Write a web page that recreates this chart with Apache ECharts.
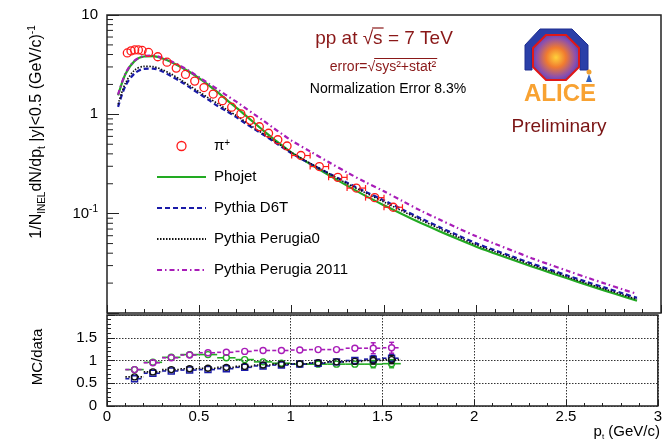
<!DOCTYPE html>
<html><head><meta charset="utf-8">
<script src="https://cdn.jsdelivr.net/npm/echarts@6/dist/echarts.min.js"></script>
<style>html,body{margin:0;padding:0;background:#fff}#c{width:665px;height:444px}</style>
</head><body><div id="c"></div>
<script>
// ---- data: pi+ spectrum ----
const dataPt = [0.11,0.13,0.15,0.17,0.19,0.225,0.275,0.325,0.375,0.425,0.475,0.525,0.575,0.625,0.675,0.725,0.775,0.825,0.875,0.925,0.975,1.05,1.15,1.25,1.35,1.45,1.55];
const dataY = [4.15,4.35,4.45,4.45,4.40,4.20,3.80,3.35,2.92,2.52,2.16,1.86,1.60,1.37,1.18,1.01,0.87,0.75,0.645,0.555,0.48,0.385,0.298,0.232,0.181,0.145,0.116];
const dataHalfWidth = [0.01,0.01,0.01,0.01,0.01,0.025,0.025,0.025,0.025,0.025,0.025,0.025,0.025,0.025,0.025,0.025,0.025,0.025,0.025,0.025,0.025,0.05,0.05,0.05,0.05,0.05,0.05];
// ---- MC curves ----
const mcPt = [0.06,0.1,0.15,0.2,0.25,0.3,0.35,0.4,0.45,0.5,0.55,0.6,0.65,0.7,0.75,0.8,0.85,0.9,0.95,1.0,1.1,1.2,1.3,1.4,1.5,1.6,1.7,1.8,1.9,2.0,2.1,2.2,2.3,2.4,2.5,2.6,2.7,2.8,2.87];
const phojet = [1.55,2.55,3.45,3.82,3.85,3.65,3.35,3.0,2.65,2.3,1.97,1.66,1.39,1.17,0.977,0.813,0.679,0.571,0.484,0.412,0.316,0.245,0.1915,0.151,0.1216,0.0986,0.0807,0.0667,0.0555,0.0465,0.0398,0.0342,0.0294,0.0255,0.0221,0.0192,0.0167,0.0146,0.0133];
const pythiaD6T = [1.19,1.94,2.59,2.87,2.89,2.70,2.41,2.13,1.855,1.61,1.40,1.21,1.07,0.936,0.811,0.707,0.618,0.537,0.465,0.404,0.319,0.255,0.205,0.166,0.136,0.110,0.0896,0.0734,0.0605,0.0502,0.0428,0.0367,0.0315,0.0273,0.0236,0.0205,0.0179,0.0156,0.0142];
const pythiaPerugia0 = [1.26,2.07,2.79,3.04,3.02,2.81,2.53,2.22,1.93,1.68,1.46,1.28,1.11,0.971,0.840,0.724,0.631,0.548,0.474,0.412,0.322,0.255,0.201,0.162,0.131,0.106,0.0863,0.0707,0.0583,0.0484,0.0414,0.0356,0.0305,0.0265,0.0229,0.0198,0.0173,0.0151,0.0137];
const pythiaPerugia2011 = [1.58,2.58,3.48,3.86,3.90,3.70,3.40,3.05,2.70,2.35,2.04,1.78,1.54,1.34,1.153,0.992,0.856,0.731,0.629,0.544,0.423,0.331,0.260,0.207,0.168,0.134,0.107,0.0874,0.0716,0.0591,0.0498,0.0421,0.0356,0.0306,0.0263,0.0227,0.0197,0.0171,0.0156];
// ---- MC/data ratios ----
const ratioPt = [0.15,0.25,0.35,0.45,0.55,0.65,0.75,0.85,0.95,1.05,1.15,1.25,1.35,1.45,1.55];
const ratioHalfWidth = [0.05,0.05,0.05,0.05,0.05,0.05,0.05,0.05,0.05,0.05,0.05,0.05,0.05,0.05,0.05];
const ratioPhojet = [0.80,0.96,1.07,1.13,1.13,1.06,1.02,0.97,0.94,0.92,0.92,0.92,0.92,0.92,0.93];
const ratioD6T = [0.60,0.72,0.77,0.79,0.80,0.82,0.85,0.88,0.90,0.92,0.94,0.97,1.00,1.03,1.05];
const ratioPerugia0 = [0.64,0.75,0.80,0.82,0.83,0.85,0.87,0.90,0.92,0.93,0.95,0.97,0.98,1.00,1.02];
const ratioPerugia2011 = [0.80,0.95,1.06,1.12,1.17,1.18,1.20,1.22,1.22,1.23,1.24,1.24,1.27,1.27,1.28];
const ratioErr = [0.01,0.01,0.01,0.01,0.01,0.01,0.01,0.01,0.01,0.015,0.015,0.02,0.03,0.08,0.09];
const ratioErr2011 = [0.01,0.01,0.01,0.01,0.01,0.01,0.01,0.01,0.01,0.015,0.015,0.02,0.04,0.12,0.12];
// ---- axis ticks ----
const logMinorTicks = [0.02,0.03,0.04,0.05,0.06,0.07,0.08,0.09,0.2,0.3,0.4,0.5,0.6,0.7,0.8,0.9,2,3,4,5,6,7,8,9];
const xTickLabels = ['0','0.5','1','1.5','2','2.5','3'];

const FONT = 'Liberation Sans, Arial, Helvetica, sans-serif';
const C = {red:'#ff1a1a', green:'#22aa22', blue:'#1a1aa8', black:'#111111', mag:'#a81cb8', dark:'#8a1818'};

const pairs = (xs, ys) => xs.map((x,i)=>[x, ys[i]]);

function dataErrRender(params, api){
  const x = api.value(0), y = api.value(1), hw = api.value(2);
  const c = api.coord([x,y]), l = api.coord([x-hw,y]), r = api.coord([x+hw,y]);
  const m = 4.2, st = {stroke:C.red, lineWidth:1.2};
  const ch = [];
  if (c[0]-l[0] > m+1) {
    ch.push({type:'line', shape:{x1:l[0],y1:c[1],x2:c[0]-m,y2:c[1]}, style:st});
    ch.push({type:'line', shape:{x1:c[0]+m,y1:c[1],x2:r[0],y2:c[1]}, style:st});
    ch.push({type:'line', shape:{x1:r[0],y1:c[1]-3,x2:r[0],y2:c[1]+3}, style:st});
    ch.push({type:'line', shape:{x1:l[0],y1:c[1]-3,x2:l[0],y2:c[1]+3}, style:st});
  }
  ch.push({type:'circle', shape:{cx:c[0], cy:c[1], r:4}, style:{stroke:C.red, fill:'none', lineWidth:1.3}});
  return {type:'group', children:ch};
}
function minorTickRender(params, api){
  const p = api.coord([0, api.value(1)]);
  return {type:'line', shape:{x1:p[0],y1:p[1],x2:p[0]+6,y2:p[1]}, style:{stroke:'#222', lineWidth:1}};
}
function ratioRender(color, dash, marker){
  return function(params, api){
    const x = api.value(0), y = api.value(1), e = api.value(2), hw = api.value(3);
    const c = api.coord([x,y]), l = api.coord([x-hw,y]), r = api.coord([x+hw,y]);
    const t = api.coord([x,y+e]), b = api.coord([x,y-e]);
    const m = 3;
    const st = {stroke:color, lineWidth:1.6, lineDash:dash};
    const ch = [
      {type:'line', shape:{x1:l[0],y1:c[1],x2:c[0]-m,y2:c[1]}, style:st},
      {type:'line', shape:{x1:c[0]+m,y1:c[1],x2:r[0],y2:c[1]}, style:st}
    ];
    if (c[1]-t[1] > m+0.5) {
      ch.push({type:'line', shape:{x1:c[0],y1:t[1],x2:c[0],y2:c[1]-m}, style:{stroke:color,lineWidth:1.6}});
      ch.push({type:'line', shape:{x1:c[0],y1:c[1]+m,x2:c[0],y2:b[1]}, style:{stroke:color,lineWidth:1.6}});
      ch.push({type:'line', shape:{x1:c[0]-2.5,y1:t[1],x2:c[0]+2.5,y2:t[1]}, style:{stroke:color,lineWidth:1.4}});
      ch.push({type:'line', shape:{x1:c[0]-2.5,y1:b[1],x2:c[0]+2.5,y2:b[1]}, style:{stroke:color,lineWidth:1.4}});
    }
    if (marker === 'rect') ch.push({type:'rect', shape:{x:c[0]-m,y:c[1]-m,width:2*m,height:2*m}, style:{stroke:color, fill:'none', lineWidth:1.4}});
    else ch.push({type:'circle', shape:{cx:c[0],cy:c[1],r:m}, style:{stroke:color, fill:'none', lineWidth:1.4}});
    return {type:'group', children:ch};
  };
}
function ratioData(vals, errs){ return ratioPt.map((x,i)=>[x, vals[i], errs[i], ratioHalfWidth[i]]); }

// text measuring for overlines of the square-root signs
const mctx = document.createElement('canvas').getContext('2d');
function tw(txt, size){ mctx.font = size + 'px ' + FONT; return mctx.measureText(txt).width; }
const t1 = 'pp at √s = 7 TeV', t1x = 384, t1s = 19;
const t1L = t1x - tw(t1, t1s)/2;
const ovA0 = t1L + tw('pp at √', t1s) - 1, ovA1 = t1L + tw('pp at √s', t1s) + 1;
const t2 = 'error=√sys²+stat²', t2x = 383, t2s = 14;
const t2L = t2x - tw(t2, t2s)/2;
const ovB0 = t2L + tw('error=√', t2s) - 1, ovB1 = t2L + tw(t2, t2s) + 1;

const chart = echarts.init(document.getElementById('c'), null, {renderer:'canvas'});
const axisLabelStyle = {fontSize:15, color:'#000', fontFamily:FONT};

const option = {
  animation:false,
  backgroundColor:'#fff',
  textStyle:{fontFamily:FONT},
  grid:[
    {left:107, top:15, width:554, height:298, show:true, borderColor:'#222', borderWidth:1.5, backgroundColor:'transparent'},
    {left:107, top:315, width:554, height:91, show:true, borderColor:'#222', borderWidth:1.5, backgroundColor:'transparent'}
  ],
  xAxis:[
    {type:'value', gridIndex:0, min:0, max:3, interval:0.5,
     axisLine:{show:false}, axisLabel:{show:false}, splitLine:{show:false},
     axisTick:{show:true, inside:true, length:8, lineStyle:{color:'#222', width:1}},
     minorTick:{show:true, splitNumber:5, length:4, lineStyle:{color:'#222', width:1}}},
    {type:'value', gridIndex:1, min:0, max:3, interval:0.5,
     axisLine:{show:false},
     axisLabel:{show:true, margin:3, ...axisLabelStyle, formatter:(v)=>xTickLabels[Math.round(v*2)] || ''},
     splitLine:{show:true, lineStyle:{color:'#333', type:[1.5,1.5], width:1}},
     axisTick:{show:true, inside:true, length:6, lineStyle:{color:'#222', width:1}},
     minorTick:{show:true, splitNumber:5, length:3, lineStyle:{color:'#222', width:1}}}
  ],
  yAxis:[
    {type:'log', gridIndex:0, logBase:10, min:0.01, max:10,
     axisLine:{show:false}, splitLine:{show:false},
     axisTick:{show:true, inside:true, length:12, lineStyle:{color:'#222', width:1}},
     axisLabel:{show:true, margin:9, ...axisLabelStyle,
       formatter:(v)=>{ if (Math.abs(v-10)<1e-6) return '10'; if (Math.abs(v-1)<1e-6) return '1'; if (Math.abs(v-0.1)<1e-6) return '{b|10}{s|-1}'; return ''; },
       rich:{b:{fontSize:15, color:'#000', fontFamily:FONT, lineHeight:18}, s:{fontSize:10, color:'#000', fontFamily:FONT, verticalAlign:'top', lineHeight:10}}}},
    {type:'value', gridIndex:1, min:0, max:2, interval:0.5,
     axisLine:{show:false},
     splitLine:{show:true, lineStyle:{color:'#333', type:[1.5,1.5], width:1}},
     axisTick:{show:true, inside:true, length:8, lineStyle:{color:'#222', width:1}},
     minorTick:{show:true, splitNumber:5, length:4, lineStyle:{color:'#222', width:1}},
     axisLabel:{show:true, margin:10, ...axisLabelStyle, formatter:(v)=> v>1.9 ? '' : String(v)}}
  ],
  legend:{
    show:true, orient:'vertical', left:151, top:133, itemWidth:49, itemHeight:9, itemGap:15,
    selectedMode:false,
    itemStyle:{opacity:0},
    data:[
      {name:'π+', icon:'circle', itemStyle:{opacity:1, color:'#fff', borderColor:C.red, borderWidth:1.3}},
      'Phojet','Pythia D6T','Pythia Perugia0','Pythia Perugia 2011'],
    textStyle:{fontSize:15, color:'#000', fontFamily:FONT, lineHeight:16, padding:[0,0,0,3],
      rich:{n:{fontSize:15, color:'#000', fontFamily:FONT, lineHeight:16}, s:{fontSize:10, color:'#000', fontFamily:FONT, verticalAlign:'top', lineHeight:9}}},
    formatter:(name)=> name==='π+' ? '{n|π}{s|+}' : name
  },
  series:[
    {name:'Phojet', type:'line', xAxisIndex:0, yAxisIndex:0, data:pairs(mcPt, phojet), symbol:'none', smooth:0.3,
     lineStyle:{color:C.green, width:2.2, type:'solid'}, itemStyle:{color:C.green}, z:3},
    {name:'Pythia D6T', type:'line', xAxisIndex:0, yAxisIndex:0, data:pairs(mcPt, pythiaD6T), symbol:'none', smooth:0.3,
     lineStyle:{color:C.blue, width:2.2, type:[5,3]}, itemStyle:{color:C.blue}, z:3},
    {name:'Pythia Perugia0', type:'line', xAxisIndex:0, yAxisIndex:0, data:pairs(mcPt, pythiaPerugia0), symbol:'none', smooth:0.3,
     lineStyle:{color:C.black, width:1.6, type:[1.5,1.5]}, itemStyle:{color:C.black}, z:3},
    {name:'Pythia Perugia 2011', type:'line', xAxisIndex:0, yAxisIndex:0, data:pairs(mcPt, pythiaPerugia2011), symbol:'none', smooth:0.3,
     lineStyle:{color:C.mag, width:2.2, type:[5,3,1.5,3]}, itemStyle:{color:C.mag}, z:3},
    {name:'π+', type:'custom', xAxisIndex:0, yAxisIndex:0, data:dataPt.map((x,i)=>[x, dataY[i], dataHalfWidth[i]]),
     renderItem:dataErrRender, clip:false, z:5, itemStyle:{color:C.red}},
    {name:'logMinor', type:'custom', xAxisIndex:0, yAxisIndex:0, data:logMinorTicks.map(v=>[0,v]),
     renderItem:minorTickRender, clip:false, z:6, silent:true},
    {name:'rPhojet', type:'custom', xAxisIndex:1, yAxisIndex:1, data:ratioData(ratioPhojet, ratioErr), renderItem:ratioRender(C.green, null, 'circle'), clip:false, z:4},
    {name:'rD6T', type:'custom', xAxisIndex:1, yAxisIndex:1, data:ratioData(ratioD6T, ratioErr), renderItem:ratioRender(C.blue, [4,2.5], 'rect'), clip:false, z:4},
    {name:'rPerugia0', type:'custom', xAxisIndex:1, yAxisIndex:1, data:ratioData(ratioPerugia0, ratioErr), renderItem:ratioRender(C.black, [1.5,1.5], 'circle'), clip:false, z:4},
    {name:'rPerugia2011', type:'custom', xAxisIndex:1, yAxisIndex:1, data:ratioData(ratioPerugia2011, ratioErr2011), renderItem:ratioRender(C.mag, [4,2.5,1.5,2.5], 'circle'), clip:false, z:4}
  ],
  graphic:[
    {type:'text', x:37, y:132, rotation:Math.PI/2, z:10,
     style:{text:'{n|1/N}{sub|INEL}{n|dN/dp}{sub|t}{n| |y|<0.5 (GeV/c)}{sup|-1}', align:'center', verticalAlign:'middle',
       rich:{n:{fontSize:16, fontFamily:FONT, fill:'#000', lineHeight:20, verticalAlign:'middle'},
             sub:{fontSize:10, fontFamily:FONT, fill:'#000', lineHeight:10, verticalAlign:'bottom'},
             sup:{fontSize:10, fontFamily:FONT, fill:'#000', lineHeight:10, verticalAlign:'top'}}}},
    {type:'text', x:38, y:357, rotation:Math.PI/2, z:10,
     style:{text:'MC/data', fontSize:15, fontFamily:FONT, fill:'#000', align:'center', verticalAlign:'middle'}},
    {type:'text', x:660, y:432, z:10,
     style:{text:'{n|p}{sub|t}{n| (GeV/c)}', align:'right', verticalAlign:'middle',
       rich:{n:{fontSize:15, fontFamily:FONT, fill:'#000', lineHeight:18, verticalAlign:'middle'},
             sub:{fontSize:8, fontFamily:FONT, fill:'#000', lineHeight:8, verticalAlign:'bottom'}}}},
    {type:'text', x:t1x, y:39, z:10,
     style:{text:t1, fontSize:t1s, fontFamily:FONT, fill:C.dark, align:'center', verticalAlign:'middle'}},
    {type:'line', z:10, shape:{x1:ovA0, y1:28, x2:ovA1, y2:28}, style:{stroke:C.dark, lineWidth:1.2}},
    {type:'text', x:t2x, y:67, z:10,
     style:{text:t2, fontSize:t2s, fontFamily:FONT, fill:C.dark, align:'center', verticalAlign:'middle'}},
    {type:'line', z:10, shape:{x1:ovB0, y1:58.5, x2:ovB1, y2:58.5}, style:{stroke:C.dark, lineWidth:1}},
    {type:'text', x:388, y:89, z:10,
     style:{text:'Normalization Error 8.3%', fontSize:14, fontFamily:FONT, fill:'#000', align:'center', verticalAlign:'middle'}},
    // ALICE logo (approximation)
    {type:'polygon', z:9, shape:{points:[[540,29],[572,29],[588,45],[588,70],[580,70],[580,48],[568,36],[544,36],[532,48],[532,70],[525,70],[525,45]]},
     style:{fill:'#2a3fa8', stroke:'#1f2f90', lineWidth:1}},
    {type:'polygon', z:9, shape:{points:[[546,35],[566,35],[579,48],[579,67],[566,80],[546,80],[533,67],[533,48]]},
     style:{fill:{type:'radial', x:0.5, y:0.5, r:0.6, colorStops:[{offset:0,color:'#ffd23a'},{offset:0.35,color:'#f07a30'},{offset:0.7,color:'#8a4fb0'},{offset:1,color:'#3a3fa0'}]}, stroke:'#e01818', lineWidth:2}},
    {type:'circle', z:9, shape:{cx:589, cy:72, r:2.5}, style:{fill:'#f0a030'}},
    {type:'polygon', z:9, shape:{points:[[586,82],[592,82],[589,74]]}, style:{fill:'#3060c0'}},
    {type:'text', x:560, y:94, z:10,
     style:{text:'ALICE', fontSize:24, fontWeight:'bold', fontFamily:FONT, fill:'#f8a232', align:'center', verticalAlign:'middle'}},
    {type:'text', x:559, y:127, z:10,
     style:{text:'Preliminary', fontSize:19, fontFamily:FONT, fill:'#7a1414', align:'center', verticalAlign:'middle'}}
  ]
};
chart.setOption(option);
</script>
</body></html>
